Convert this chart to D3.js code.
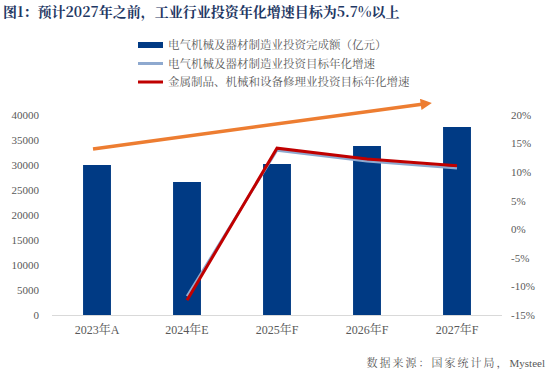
<!DOCTYPE html>
<html>
<head>
<meta charset="utf-8">
<script src="https://cdn.jsdelivr.net/npm/d3@7"></script>
<style>
  body { margin: 0; background: #fff; }
  svg { display: block; }
  text { font-family: "Liberation Serif", "Noto Serif CJK SC", "Noto Sans CJK SC", serif; }
</style>
</head>
<body>
<div id="chart"></div>
<script>
// Categories and series
const categories = ['2023年A', '2024年E', '2025年F', '2026年F', '2027年F'];
const investment = [30000, 26600, 30200, 33800, 37600];          // 亿元
const electricGrowth = [null, -11.7, 13.8, 11.9, 10.7];          // %
const metalGrowth = [null, -12.4, 14.2, 12.3, 11.1];             // %
const leftTicks = [0, 5000, 10000, 15000, 20000, 25000, 30000, 35000, 40000];
const rightTicks = [-15, -10, -5, 0, 5, 10, 15, 20];
const legendLabels = [
  '电气机械及器材制造业投资完成额（亿元）',
  '电气机械及器材制造业投资目标年化增速',
  '金属制品、机械和设备修理业投资目标年化增速'
];
// trend arrow: [category index, left-axis value]
const arrowFrom = [0, 33200];
const arrowTo = [3.76, 42500];

const width = 547;
const height = 374;
const margin = { top: 115, right: 45, bottom: 59, left: 52 };

const colors = {
  bar: '#003A84',
  electric: '#8EA9CF',
  metal: '#C00000',
  arrow: '#ED7D31',
  text: '#595959',
  title: '#1F3864',
  axis: '#D9D9D9'
};

const svg = d3.select('#chart')
  .append('svg')
  .attr('width', width)
  .attr('height', height);

// Title
svg.append('text')
  .attr('x', 3)
  .attr('y', 17)
  .attr('fill', colors.title)
  .attr('font-size', 14)
  .attr('font-weight', 'bold')
  .style('font-family', '"Noto Serif CJK SC", "Noto Sans CJK SC", serif')
  .text('图1：预计2027年之前，工业行业投资年化增速目标为5.7%以上');

const x = d3.scaleBand()
  .domain(categories)
  .range([margin.left, width - margin.right])
  .paddingInner(0.69)
  .paddingOuter(0.345);

const step = (width - margin.left - margin.right) / categories.length;
const xIdx = i => margin.left + (i + 0.5) * step;

const yLeft = d3.scaleLinear().domain([0, 40000]).range([height - margin.bottom, margin.top]);
const yRight = d3.scaleLinear().domain([-15, 20]).range([height - margin.bottom, margin.top]);

// Bars
svg.append('g')
  .selectAll('rect')
  .data(investment)
  .join('rect')
  .attr('x', (d, i) => x(categories[i]))
  .attr('y', d => yLeft(d))
  .attr('width', x.bandwidth())
  .attr('height', d => yLeft(0) - yLeft(d))
  .attr('fill', colors.bar);

// Baseline
svg.append('line')
  .attr('x1', margin.left)
  .attr('x2', width - margin.right)
  .attr('y1', yLeft(0) + 0.5)
  .attr('y2', yLeft(0) + 0.5)
  .attr('stroke', colors.axis);

// Left axis labels
svg.append('g')
  .selectAll('text')
  .data(leftTicks)
  .join('text')
  .attr('x', 39)
  .attr('y', d => yLeft(d))
  .attr('dy', '0.35em')
  .attr('text-anchor', 'end')
  .attr('font-size', 11)
  .attr('fill', colors.text)
  .text(d => d);

// Right axis labels
svg.append('g')
  .selectAll('text')
  .data(rightTicks)
  .join('text')
  .attr('x', 511)
  .attr('y', d => yRight(d))
  .attr('dy', '0.35em')
  .attr('text-anchor', 'start')
  .attr('font-size', 11)
  .attr('fill', colors.text)
  .text(d => d + '%');

// Category labels
svg.append('g')
  .selectAll('text')
  .data(categories)
  .join('text')
  .attr('x', d => x(d) + x.bandwidth() / 2)
  .attr('y', 330)
  .attr('dy', '0.35em')
  .attr('text-anchor', 'middle')
  .attr('font-size', 12)
  .attr('fill', colors.text)
  .text(d => d);

// Growth lines
const line = d3.line()
  .defined(d => d != null)
  .x((d, i) => xIdx(i))
  .y(d => yRight(d));

svg.append('path')
  .datum(electricGrowth)
  .attr('d', line)
  .attr('fill', 'none')
  .attr('stroke', colors.electric)
  .attr('stroke-width', 2.5);

svg.append('path')
  .datum(metalGrowth)
  .attr('d', line)
  .attr('fill', 'none')
  .attr('stroke', colors.metal)
  .attr('stroke-width', 3);

// Trend arrow
svg.append('defs')
  .append('marker')
  .attr('id', 'arrowhead')
  .attr('viewBox', '0 0 10 10')
  .attr('refX', 6)
  .attr('refY', 5)
  .attr('markerWidth', 3.2)
  .attr('markerHeight', 3.2)
  .attr('orient', 'auto')
  .append('path')
  .attr('d', 'M0,0 L10,5 L0,10 Z')
  .attr('fill', colors.arrow);

svg.append('line')
  .attr('x1', xIdx(arrowFrom[0]) - 4)
  .attr('y1', yLeft(arrowFrom[1]))
  .attr('x2', xIdx(arrowTo[0]) - 8)
  .attr('y2', yLeft(arrowTo[1]) + 1)
  .attr('stroke', colors.arrow)
  .attr('stroke-width', 3.5)
  .attr('marker-end', 'url(#arrowhead)');

// Legend
const legend = svg.append('g')
  .selectAll('g')
  .data(legendLabels)
  .join('g')
  .attr('transform', (d, i) => `translate(138, ${45 + i * 18.5})`);

legend.append('rect')
  .attr('x', 0)
  .attr('y', (d, i) => (i === 0 ? -3 : -1.5))
  .attr('width', 25)
  .attr('height', (d, i) => (i === 0 ? 6 : 3))
  .attr('fill', (d, i) => [colors.bar, colors.electric, colors.metal][i]);

legend.append('text')
  .attr('x', 30)
  .attr('y', 0)
  .attr('dy', '0.35em')
  .attr('font-size', 11.5)
  .attr('fill', colors.text)
  .style('font-family', '"Noto Serif CJK SC", "Noto Sans CJK SC", serif')
  .text(d => d);

// Source
const source = svg.append('text')
  .attr('x', 545)
  .attr('y', 363)
  .attr('dy', '0.35em')
  .attr('text-anchor', 'end')
  .attr('font-size', 11)
  .attr('fill', colors.text);
source.append('tspan')
  .attr('letter-spacing', 2)
  .text('数据来源：国家统计局，');
source.append('tspan')
  .text('Mysteel');
</script>
</body>
</html>
